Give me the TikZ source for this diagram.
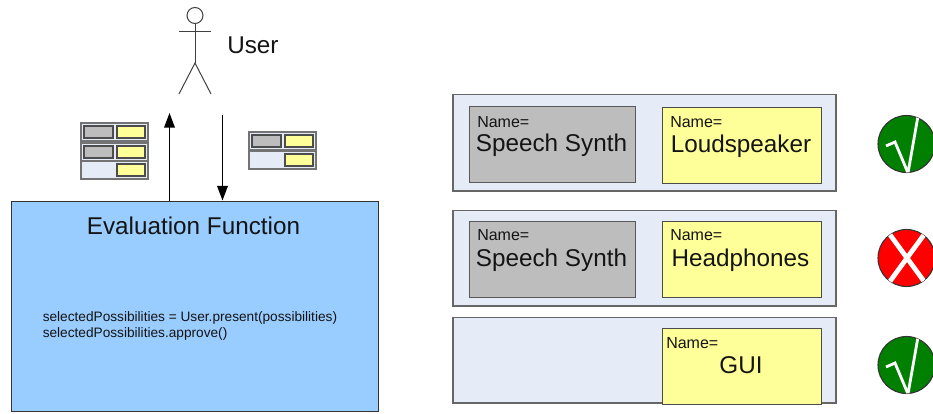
\documentclass[tikz,border=0pt]{standalone}
\usepackage{fontspec}
\setmainfont{Liberation Sans}
\usetikzlibrary{arrows.meta}
\definecolor{panel}{HTML}{E6ECF7}
\definecolor{grayb}{HTML}{BDBDBD}
\definecolor{yell}{HTML}{FFFF99}
\definecolor{evalb}{HTML}{99CCFF}
\definecolor{okg}{HTML}{007F00}
\tikzset{
  ink/.style={text=black!92, inner sep=0pt},
  namelab/.style={ink, anchor=west, font=\fontsize{12}{12}\selectfont},
  biglab/.style={ink, anchor=center, font=\fontsize{18.2}{20}\selectfont},
  flow/.style={black, line width=1.1pt, -{Triangle[length=11pt,width=8pt]}},
  stick/.style={draw=black!75, line width=0.75pt},
  tickmark/.style={draw=white, line width=2.1pt},
  mpanel/.style={fill=panel, draw=black!55, line width=1.1pt},
  mgray/.style={fill=grayb, draw=black!70, line width=1.1pt},
  myel/.style={fill=yell, draw=black!70, line width=1.1pt},
  verdictdisc/.style={circle, draw=black!80, line width=0.8pt, minimum size=42.75pt, inner sep=0pt, fill=#1}
}
\newcommand{\minirow}[4]{% x, y, height, has gray
  \path[mpanel] (#1,#2) rectangle ++(67,#3);
  \ifnum#4=1 \path[mgray] (#1+3,#2+3) rectangle ++(29,#3-6); \fi
  \path[myel] (#1+36,#2+3) rectangle ++(28,#3-6);
}
\newcommand{\verdictok}[2]{% name, y
  \node[verdictdisc=okg] (#1) at (906.5,#2) {};
  \begin{scope}
    \clip (906.5,#2) circle (28.5);
    \draw[tickmark, line join=miter] (886,#2+2) -- (895,#2-2) -- (908,#2+29) -- (918,#2-28);
  \end{scope}
}
\newcommand{\verdictno}[2]{% name, y
  \node[verdictdisc=red] (#1) at (906.5,#2) {};
  \begin{scope}
    \clip (906.5,#2) circle (28.5);
    \draw[tickmark, line width=3.6pt] (888,#2-26) -- (926,#2+26);
    \draw[tickmark, line width=3.6pt] (926,#2-26) -- (888,#2+26);
  \end{scope}
}
\begin{document}
\begin{tikzpicture}[x=0.75pt,y=-0.75pt]
\useasboundingbox (0,0) rectangle (933,414);
\clip (0,0) rectangle (933,414);

% Stick figure
\node[circle, draw=black!75, line width=0.75pt, minimum size=12pt, inner sep=0pt] (head) at (195,15.5) {};
\coordinate (hip) at (195,63);
\coordinate (armL) at (179,31);
\coordinate (armR) at (211,31);
\coordinate (legL) at (179,94);
\coordinate (legR) at (211,94);
\draw[stick] (head.south) -- (hip);
\draw[stick] (armL) -- (armR);
\draw[stick] (legL) -- (hip) -- (legR);
\node[ink, anchor=west, font=\fontsize{18.2}{20}\selectfont] (user) at (227,45) {User};

% Evaluation box
\node[draw=black!80, fill=evalb, line width=0.9pt, minimum width=275.25pt, minimum height=157.5pt, inner sep=0pt, anchor=north west] (eval) at (10.5,200.5) {};
\node[ink, font=\fontsize{18.2}{20}\selectfont] (title) at (193.5,226) {Evaluation Function};
\node[ink, anchor=west, align=left, font=\fontsize{10.25}{12.4}\selectfont] (code) at (42.5,326)
  {selectedPossibilities = User.present(possibilities)\\selectedPossibilities.approve()};

% Arrows
\coordinate (upEnd) at (169.5,113);
\coordinate (downStart) at (222.5,115);
\draw[flow] (eval.north -| upEnd) -- (upEnd);
\draw[flow] (downStart) -- (eval.north -| downStart);

% Mini stacks
\minirow{81}{123}{18}{1}
\minirow{81}{143}{18}{1}
\minirow{81}{161}{18}{0}
\minirow{249}{132}{18}{1}
\minirow{249}{151}{18}{0}

% Row 1
\path[fill=panel, draw=black!60, line width=1pt] (453,94.5) rectangle (836,191);
\node[fill=grayb, draw=black!65, line width=1pt, minimum width=124.5pt, minimum height=57pt, inner sep=0pt, anchor=north west] (g1) at (468.5,106) {};
\node[fill=yell, draw=black!70, line width=1pt, minimum width=119.25pt, minimum height=57pt, inner sep=0pt, anchor=north west] (y1) at (661.5,107) {};
\node[namelab] (g1n) at (477,122.5) {Name=};
\node[biglab] (g1t) at (551.5,145) {Speech Synth};
\node[namelab] (y1n) at (670,122.5) {Name=};
\node[biglab] (y1t) at (741,146) {Loudspeaker};

% Row 2
\path[fill=panel, draw=black!60, line width=1pt] (453,210.5) rectangle (836,306);
\node[fill=grayb, draw=black!65, line width=1pt, minimum width=124.5pt, minimum height=57pt, inner sep=0pt, anchor=north west] (g2) at (468.5,221) {};
\node[fill=yell, draw=black!70, line width=1pt, minimum width=119.25pt, minimum height=57pt, inner sep=0pt, anchor=north west] (y2) at (661.5,221) {};
\node[namelab] (g2n) at (477,235) {Name=};
\node[biglab] (g2t) at (551.5,260) {Speech Synth};
\node[namelab] (y2n) at (670,235) {Name=};
\node[biglab] (y2t) at (740.5,260) {Headphones};

% Row 3
\path[fill=panel, draw=black!60, line width=1pt] (453,317.5) rectangle (836,403);
\node[fill=yell, draw=black!70, line width=1pt, minimum width=119.25pt, minimum height=57pt, inner sep=0pt, anchor=north west] (y3) at (661.5,328) {};
\node[namelab] (y3n) at (666,343) {Name=};
\node[biglab] (y3t) at (741,365) {GUI};

% Verdicts
\verdictok{v1}{144}
\verdictno{v2}{258}
\verdictok{v3}{365}
\end{tikzpicture}
\end{document}
